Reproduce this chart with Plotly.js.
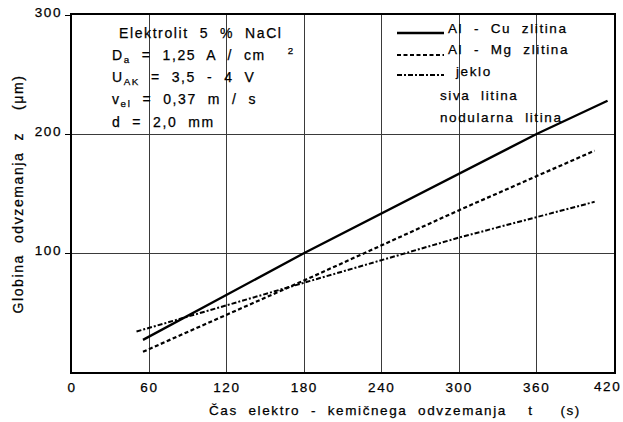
<!DOCTYPE html>
<html>
<head>
<meta charset="utf-8">
<script src="https://cdn.plot.ly/plotly-3.0.1.min.js"></script>
<style>
html,body{margin:0;padding:0;background:#fff;}
#chart{width:623px;height:422px;}
svg text{letter-spacing:1.6px;}
#chart svg text{stroke:#000;stroke-width:0.25px;}
</style>
</head>
<body>
<div id="chart"></div>
<script>
// ---- data ----
const tAlCu = [55, 180, 360, 415];
const zAlCu = [27, 100, 200, 228];
const tAlMg = [55, 180, 300, 405];
const zAlMg = [17, 77, 136, 186];
const tJeklo = [50, 180, 300, 405];
const zJeklo = [34, 75, 113, 143];

const seriesNames = ['Al  -  Cu  zlitina', 'Al  -  Mg  zlitina', 'jeklo'];
const extraLegend = ['siva  litina', 'nodularna  litina'];
const infoLines = [
  'Elektrolit  5  %  NaCl',
  'D<sub>a</sub>  =  1,25  A  /  cm    <sup>2</sup>',
  'U<sub>AK</sub>  =  3,5  -  4  V',
  'v<sub>el</sub>  =  0,37  m  /  s',
  'd  =  2,0  mm'
];
const xTicks = [0, 60, 120, 180, 240, 300, 360, 420];
const yTicks = [100, 200, 300];
const xTitle = 'Čas  elektro  -  kemičnega  odvzemanja    t     (s)';
const yTitle = 'Globina  odvzemanja  z    (μm)';

// ---- layout helpers (pixel -> paper) ----
const L = 72, R = 614, T = 15, B = 372;
const px = x => (x - L) / (R - L);
const py = y => (B - y) / (B - T);
const FONT = 'Liberation Sans, Arial, sans-serif';
const INK = '#000';

const styles = [
  {dash: 'solid', width: 2.3},
  {dash: '4px,2.5px', width: 2.2},
  {dash: '5px,2px,2px,2px', width: 2}
];
const xs = [tAlCu, tAlMg, tJeklo];
const ys = [zAlCu, zAlMg, zJeklo];

const traces = xs.map((x, i) => ({
  x: x, y: ys[i], type: 'scatter', mode: 'lines',
  name: seriesNames[i], showlegend: false, hoverinfo: 'skip',
  line: {color: INK, width: styles[i].width, dash: styles[i].dash}
}));

const annotations = [];
const infoY = [33, 55, 78, 100, 122];
const infoX = [117, 110, 110, 110, 110];
infoLines.forEach((s, i) => annotations.push({
  xref: 'paper', yref: 'paper', x: px(infoX[i]), y: py(infoY[i]),
  xanchor: 'left', yanchor: 'middle', showarrow: false, text: s,
  font: {family: FONT, size: 14, color: INK}
}));
const legY = [29, 50, 71, 96, 117];
const legX = [446, 446, 453, 438, 438];
seriesNames.concat(extraLegend).forEach((s, i) => annotations.push({
  xref: 'paper', yref: 'paper', x: px(legX[i]), y: py(legY[i]),
  xanchor: 'left', yanchor: 'middle', showarrow: false, text: s,
  font: {family: FONT, size: 13.5, color: INK}
}));
// x-axis title (off-centre in the reference)
annotations.push({
  xref: 'paper', yref: 'paper', x: px(395), y: py(410),
  xanchor: 'center', yanchor: 'middle', showarrow: false, text: xTitle,
  font: {family: FONT, size: 13.5, color: INK}
});
// y-axis title
annotations.push({
  xref: 'paper', yref: 'paper', x: -55 / (R - L), y: py(194.5),
  xanchor: 'center', yanchor: 'middle', showarrow: false, text: yTitle,
  textangle: -90, font: {family: FONT, size: 14, color: INK}
});
// last x tick label, pulled inside the picture as in the reference
const lastX = xTicks[xTicks.length - 1];
annotations.push({
  xref: 'x', yref: 'paper', x: lastX, y: py(386), xshift: -7,
  xanchor: 'center', yanchor: 'middle', showarrow: false, text: String(lastX),
  font: {family: FONT, size: 13.5, color: INK}
});

const shapes = [
  {type: 'rect', layer: 'between', xref: 'paper', yref: 'paper',
   x0: px(L + 1), x1: px(306), y0: py(112), y1: py(T + 1),
   fillcolor: '#fff', line: {width: 0}},
  {type: 'rect', layer: 'between', xref: 'paper', yref: 'paper',
   x0: px(396), x1: px(R - 1), y0: py(127), y1: py(T + 1),
   fillcolor: '#fff', line: {width: 0}}
];
const legLineY = [33, 55, 75];
styles.forEach((st, i) => shapes.push({
  type: 'line', xref: 'paper', yref: 'paper',
  x0: px(397), x1: px(444), y0: py(legLineY[i]), y1: py(legLineY[i]),
  line: {color: INK, width: st.width, dash: st.dash}
}));

const layout = {
  width: 623, height: 422,
  margin: {l: L, r: 623 - R, t: T, b: 422 - B, pad: 0},
  paper_bgcolor: '#fff', plot_bgcolor: '#fff',
  showlegend: false,
  font: {family: FONT, size: 13.5, color: INK},
  xaxis: {
    range: [0, 420], tickvals: xTicks,
    ticktext: xTicks.map((v, i) => i === xTicks.length - 1 ? '' : String(v)),
    showgrid: true, gridcolor: '#3a3a3a', gridwidth: 1,
    zeroline: false, showline: true, linecolor: INK, linewidth: 2.3, mirror: true,
    ticks: 'outside', ticklen: 1, tickcolor: 'rgba(0,0,0,0)',
    tickfont: {family: FONT, size: 13.5, color: INK}
  },
  yaxis: {
    range: [0, 300], tickvals: yTicks, ticktext: yTicks.map(String),
    ticklabeloverflow: 'allow', ticklabelshift: -3,
    showgrid: true, gridcolor: '#3a3a3a', gridwidth: 1,
    zeroline: false, showline: true, linecolor: INK, linewidth: 2.3, mirror: true,
    ticks: 'outside', ticklen: 5, tickcolor: INK, tickwidth: 1,
    tickfont: {family: FONT, size: 13.5, color: INK}
  },
  annotations: annotations,
  shapes: shapes
};

Plotly.newPlot('chart', traces, layout, {staticPlot: true, displayModeBar: false});
</script>
</body>
</html>
